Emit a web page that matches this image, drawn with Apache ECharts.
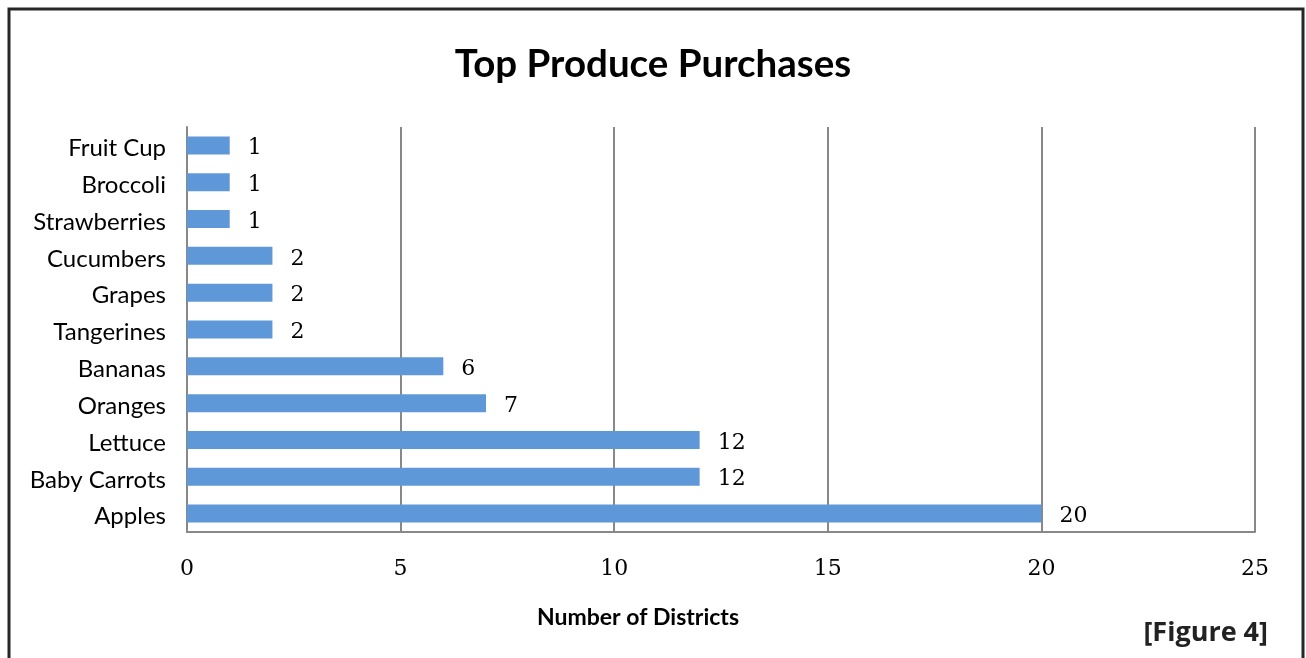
<!DOCTYPE html>
<html>
<head>
<meta charset="utf-8">
<script src="https://cdn.jsdelivr.net/npm/echarts@6/dist/echarts.min.js"></script>
<style>
  html, body { margin: 0; padding: 0; background: #fff; }
  #chart { width: 1306px; height: 658px; }
</style>
</head>
<body>
<div id="chart"></div>
<script>
const categories = ['Apples', 'Baby Carrots', 'Lettuce', 'Oranges', 'Bananas', 'Tangerines', 'Grapes', 'Cucumbers', 'Strawberries', 'Broccoli', 'Fruit Cup'];
const districts = [20, 12, 12, 7, 6, 2, 2, 2, 1, 1, 1];

const chart = echarts.init(document.getElementById('chart'));

const option = {
  backgroundColor: '#fff',
  animation: false,
  graphic: [
    {
      type: 'rect',
      shape: { x: 9, y: 9, width: 1294, height: 660 },
      style: { fill: 'none', stroke: '#262626', lineWidth: 3 }
    },
    {
      // axis name sits off-centre in the original
      type: 'text',
      x: 638,
      y: 618,
      style: {
        text: 'Number of Districts',
        font: 'bold 23px Lato, sans-serif',
        fill: '#000',
        align: 'center',
        verticalAlign: 'middle'
      }
    },
    {
      type: 'text',
      x: 1268,
      y: 633,
      style: {
        text: '[Figure 4]',
        font: 'bold 27px "Open Sans", sans-serif',
        fill: '#222',
        align: 'right',
        verticalAlign: 'middle'
      }
    }
  ],
  title: {
    text: 'Top Produce Purchases',
    left: 'center',
    top: 40,
    textStyle: { fontFamily: 'Lato, sans-serif', fontWeight: 'bold', fontSize: 38.5, color: '#000' }
  },
  grid: {
    left: 187,
    right: 51,
    top: 127,
    bottom: 126
  },
  xAxis: {
    type: 'value',
    min: 0,
    max: 25,
    interval: 5,
    axisLine: { show: true, lineStyle: { color: '#888', width: 2 } },
    axisTick: { show: false },
    axisLabel: { fontFamily: '"DejaVu Serif", serif', fontSize: 22, color: '#000', margin: 26 },
    splitLine: { show: true, lineStyle: { color: '#888', width: 2 } }
  },
  yAxis: {
    type: 'category',
    data: categories,
    axisLine: { show: true, lineStyle: { color: '#888', width: 2 } },
    axisTick: { show: false },
    axisLabel: { fontFamily: 'Lato, sans-serif', fontSize: 24, color: '#000', margin: 21, lineHeight: 30, verticalAlign: 'top', padding: [-12, 0, 0, 0] }
  },
  series: [
    {
      type: 'bar',
      data: districts,
      barWidth: 18,
      itemStyle: { color: '#5f98d8' },
      label: {
        show: true,
        position: 'right',
        distance: 18,
        offset: [0, 3],
        fontFamily: '"DejaVu Serif", serif',
        fontSize: 22,
        color: '#000'
      }
    }
  ]
};

chart.setOption(option);
</script>
</body>
</html>
